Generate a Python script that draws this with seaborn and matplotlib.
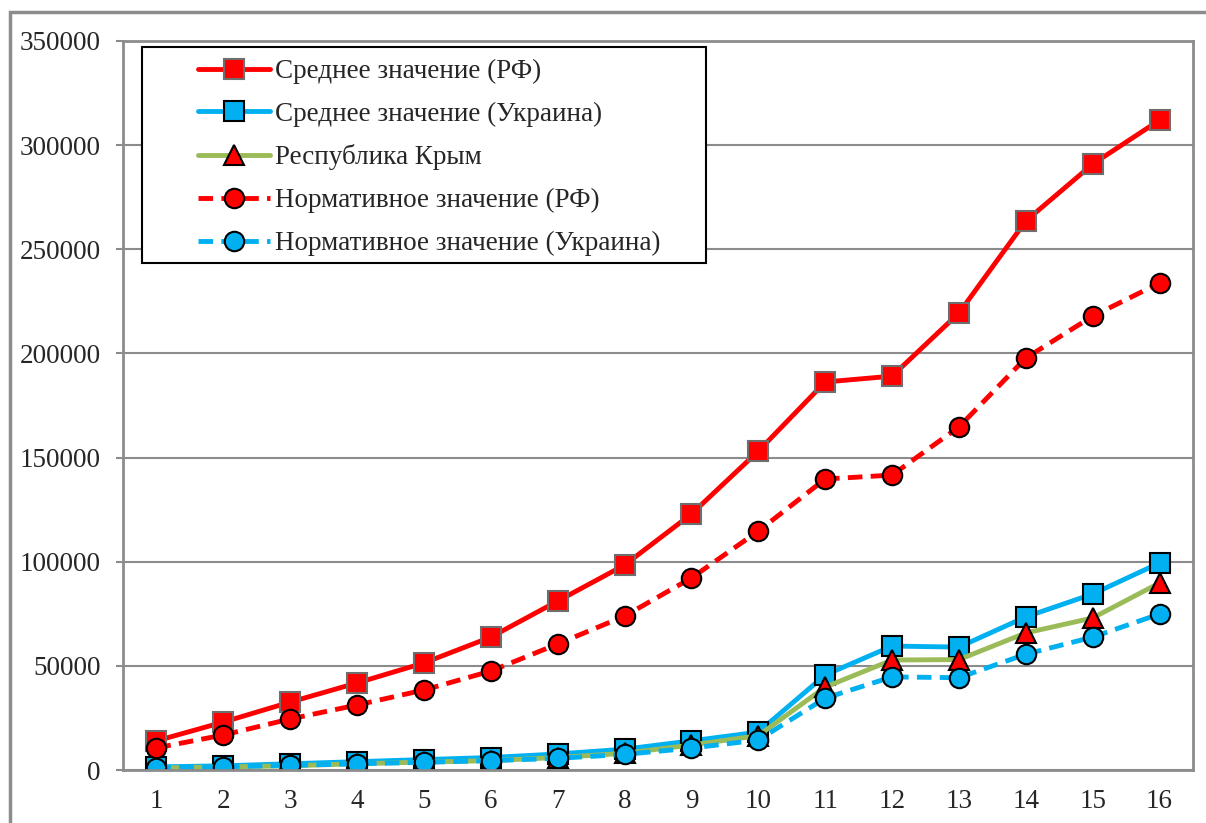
import numpy as np
import pandas as pd
import matplotlib
matplotlib.use("Agg")
import matplotlib.pyplot as plt
import seaborn as sns
from matplotlib.patches import Rectangle

# Data
years = list(range(1, 17))
rf_mean = [14000, 23000, 32600, 41800, 51400, 63800, 81100, 98400,
           122900, 153100, 186300, 189100, 219400, 263600, 290900, 312000]
ua_mean = [1500, 2000, 3000, 4000, 5000, 6000, 7700, 10000,
           14000, 18200, 45600, 59500, 59000, 73500, 84500, 99400]
crimea = [1000, 1500, 2000, 3000, 3800, 4500, 6000, 8000,
          12000, 16500, 39800, 52800, 53000, 65800, 73000, 89800]
rf_norm = [10600, 16800, 24500, 31200, 38400, 47500, 60500, 73900,
           92200, 114700, 139700, 141600, 164700, 197800, 217900, 233800]
ua_norm = [1200, 1600, 2200, 3000, 3700, 4500, 5600, 7500,
           10500, 14400, 34500, 44700, 44300, 55600, 63800, 74900]

labels = ["Среднее значение (РФ)", "Среднее значение (Украина)", "Республика Крым",
          "Нормативное значение (РФ)", "Нормативное значение (Украина)"]

df = pd.DataFrame({"x": years, labels[0]: rf_mean, labels[1]: ua_mean,
                   labels[2]: crimea, labels[3]: rf_norm, labels[4]: ua_norm})

sns.set_style("white")
plt.rcParams["font.family"] = ["Liberation Serif", "DejaVu Serif"]

W, H = 1206, 823
fig = plt.figure(figsize=(W / 100, H / 100), dpi=100)
ax = fig.add_axes([123 / W, 1 - 770 / H, (1193 - 123) / W, (770 - 41) / H])

# outer frame of the chart
fig.patches.append(Rectangle((10 / W, -0.1), 1.2, 1 - 12 / H + 0.1,
                             transform=fig.transFigure, fill=False,
                             edgecolor="#8c8c8c", linewidth=2.5))

red = "#FF0000"
blue = "#00B0F0"
green = "#9BBB59"
dash = (0, (3.0, 1.7))
styles = [
    dict(color=red, marker="s", markerfacecolor=red, markeredgecolor="#6e6e6e", ls="-"),
    dict(color=blue, marker="s", markerfacecolor=blue, markeredgecolor="black", ls="-"),
    dict(color=green, marker="^", markerfacecolor=red, markeredgecolor="black", ls="-"),
    dict(color=red, marker="o", markerfacecolor=red, markeredgecolor="black", ls=dash),
    dict(color=blue, marker="o", markerfacecolor=blue, markeredgecolor="black", ls=dash),
]

for lab, st in zip(labels, styles):
    st = dict(st)
    ls = st.pop("ls")
    sns.lineplot(data=df, x="x", y=lab, ax=ax, label=lab, linewidth=3.5,
                 markersize=14, markeredgewidth=1.5, **st)
    ax.lines[-1].set_linestyle(ls)
    ax.lines[-1].set_solid_capstyle("round")

ax.set_xlim(0.5, 16.5)
ax.set_ylim(0, 350000)
ax.set_yticks(np.arange(0, 350001, 50000))
ax.set_xticks(years)
ax.set_xticks(np.arange(0.5, 16.6, 1), minor=True)
ax.tick_params(axis="x", which="major", length=0, labelsize=19.5, pad=14)
ax.tick_params(axis="x", which="minor", length=5, width=1.5, color="#8c8c8c", direction="out")
ax.tick_params(axis="y", which="major", length=5, width=1.5, color="#8c8c8c",
               direction="out", labelsize=19.5, left=True, pad=11)
ax.set_xlabel("")
ax.set_ylabel("")
ax.grid(axis="y", color="#8c8c8c", linewidth=1.5)
ax.set_axisbelow(True)
for sp in ax.spines.values():
    sp.set_color("#8c8c8c")
    sp.set_linewidth(2)

# legend box drawn separately (wide side padding)
ax.add_patch(Rectangle((142 / W, 1 - 263 / H), (706 - 142) / W, (263 - 47) / H,
                       transform=fig.transFigure, facecolor="white",
                       edgecolor="black", linewidth=1.5, zorder=5, clip_on=False))
leg = ax.legend(loc="upper left", bbox_to_anchor=(198 / W, 1 - 59 / H),
                bbox_transform=fig.transFigure, fontsize=19.5, frameon=False,
                handlelength=2.66, labelspacing=0.65, borderpad=0, handletextpad=0.18,
                borderaxespad=0)
leg.set_zorder(6)

fig.savefig("out.png", dpi=100)
